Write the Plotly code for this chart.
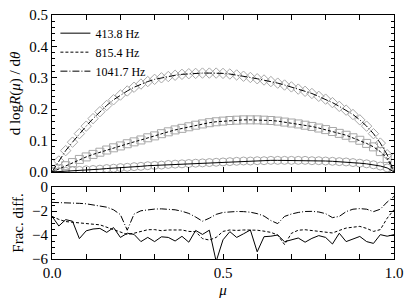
import plotly.graph_objects as go

# ---------------- data ----------------
mu = [round(i * 0.02, 2) for i in range(51)]

deriv_413 = [0.000, 0.001, 0.002, 0.004, 0.005, 0.007, 0.008, 0.009, 0.011, 0.012,
             0.014, 0.015, 0.017, 0.018, 0.020, 0.021, 0.022, 0.024, 0.025, 0.026,
             0.027, 0.028, 0.029, 0.030, 0.031, 0.032, 0.033, 0.034, 0.035, 0.035,
             0.036, 0.036, 0.037, 0.037, 0.037, 0.037, 0.037, 0.037, 0.036, 0.036,
             0.035, 0.034, 0.033, 0.032, 0.030, 0.028, 0.026, 0.023, 0.019, 0.013,
             0.000]
deriv_815 = [0.000, 0.010, 0.020, 0.030, 0.040, 0.048, 0.056, 0.063, 0.070, 0.077,
             0.083, 0.090, 0.096, 0.102, 0.109, 0.115, 0.122, 0.128, 0.134, 0.139,
             0.144, 0.149, 0.153, 0.157, 0.160, 0.162, 0.164, 0.165, 0.166, 0.166,
             0.166, 0.165, 0.164, 0.162, 0.159, 0.156, 0.153, 0.149, 0.145, 0.140,
             0.135, 0.129, 0.123, 0.117, 0.109, 0.101, 0.091, 0.080, 0.065, 0.043,
             0.000]
deriv_1041 = [0.000, 0.035, 0.068, 0.095, 0.122, 0.146, 0.170, 0.192, 0.212, 0.230,
              0.245, 0.258, 0.270, 0.280, 0.288, 0.295, 0.300, 0.304, 0.308, 0.311,
              0.313, 0.314, 0.315, 0.315, 0.315, 0.314, 0.312, 0.309, 0.305, 0.301,
              0.297, 0.293, 0.288, 0.283, 0.277, 0.271, 0.264, 0.257, 0.250, 0.241,
              0.232, 0.221, 0.209, 0.197, 0.183, 0.166, 0.146, 0.122, 0.092, 0.055,
              0.000]

diff_413 = [-2.44, -3.25, -2.72, -2.85, -4.30, -3.65, -3.50, -3.45, -3.78, -3.38,
            -4.20, -3.85, -3.95, -4.55, -4.20, -4.55, -4.15, -4.20, -4.50, -4.11,
            -4.60, -3.62, -3.95, -3.60, -6.20, -4.40, -3.72, -4.20, -3.90, -3.58,
            -5.40, -4.14, -4.10, -4.00, -4.56, -4.40, -4.25, -4.60, -4.28, -4.05,
            -4.20, -4.75, -3.85, -4.55, -4.35, -4.12, -4.55, -4.70, -3.97, -4.10,
            -3.97]
diff_815 = [-2.45, -2.70, -2.88, -2.95, -3.00, -3.03, -3.10, -3.15, -3.35, -3.50,
            -3.70, -3.95, -3.85, -3.72, -3.56, -3.55, -3.64, -3.58, -3.56, -3.58,
            -3.70, -3.72, -4.30, -4.42, -4.20, -3.70, -3.58, -3.62, -3.58, -3.56,
            -3.60, -3.68, -3.78, -4.00, -4.80, -3.86, -3.60, -3.56, -3.62, -3.69,
            -3.75, -3.83, -3.62, -3.42, -3.35, -3.28, -3.45, -3.70, -3.55, -2.60,
            -1.89]
diff_1041 = [-1.28, -1.29, -1.31, -1.33, -1.36, -1.40, -1.48, -1.58, -1.68, -1.90,
             -2.30, -3.60, -2.25, -1.98, -1.88, -1.84, -1.82, -1.84, -1.90, -2.02,
             -2.20, -2.50, -2.85, -2.60, -2.28, -2.12, -2.05, -2.04, -2.05, -2.10,
             -2.22, -2.42, -2.80, -3.05, -2.45, -2.25, -2.12, -2.04, -2.03, -2.08,
             -2.22, -2.55, -2.45, -2.05, -1.85, -1.80, -1.85, -2.05, -1.85, -1.25,
             -0.78]

labels = ["413.8 Hz", "815.4 Hz", "1041.7 Hz"]
x_tickvals = [0.0, 0.5, 1.0]
top_tickvals = [0.0, 0.1, 0.2, 0.3, 0.4, 0.5]
bot_tickvals = [0, -2, -4, -6]

# ---------------- styles ----------------
dashes = ["solid", "3px,2px", "7px,2px,1px,2px"]
symbols = ["circle-open", "square-open", "diamond-open"]
gray = "#a8a8a8"
serif = "Liberation Serif"

fig = go.Figure()

for vals, sym in zip([deriv_413, deriv_815, deriv_1041], symbols):
    fig.add_trace(go.Scatter(x=mu, y=vals, mode="markers", showlegend=False,
                             marker=dict(symbol=sym, size=8, color=gray,
                                         line=dict(width=1, color=gray)),
                             xaxis="x", yaxis="y"))

for vals, lab, d in zip([deriv_413, deriv_815, deriv_1041], labels, dashes):
    fig.add_trace(go.Scatter(x=mu, y=vals, mode="lines", name=lab,
                             line=dict(color="black", width=1, dash=d),
                             xaxis="x", yaxis="y"))

for vals, d in zip([diff_413, diff_815, diff_1041], dashes):
    fig.add_trace(go.Scatter(x=mu, y=vals, mode="lines", showlegend=False,
                             line=dict(color="black", width=1, dash=d),
                             xaxis="x2", yaxis="y2"))

axis_common = dict(showline=True, linecolor="black", linewidth=1, mirror="ticks",
                   ticks="inside", tickcolor="black", ticklen=5, tickwidth=1,
                   showgrid=False, zeroline=False,
                   tickfont=dict(family=serif, size=15, color="black"))

fig.update_layout(
    width=415, height=305,
    margin=dict(l=52, r=21, t=15, b=46, autoexpand=False),
    paper_bgcolor="white", plot_bgcolor="white",
    font=dict(family=serif, size=15, color="black"),
    showlegend=True,
    legend=dict(x=0.01, y=0.985, xanchor="left", yanchor="top",
                bgcolor="rgba(0,0,0,0)", font=dict(family=serif, size=12),
                itemwidth=30, tracegroupgap=0),
    xaxis=dict(domain=[0, 1], range=[0, 1], anchor="y", showticklabels=False,
               dtick=0.1, tick0=0, **axis_common),
    yaxis=dict(domain=[0.3566, 1], range=[0, 0.5], anchor="x",
               tickvals=top_tickvals, tickformat=".1f",
               minor=dict(dtick=0.02, ticks="inside", ticklen=3, tickcolor="black"),
               title=dict(text="d log<i>R</i>(<i>μ</i>) / d<i>θ</i>",
                          font=dict(family=serif, size=15), standoff=4),
               **axis_common),
    xaxis2=dict(domain=[0, 1], range=[0, 1], anchor="y2",
                tickvals=[round(i * 0.1, 1) for i in range(11)],
                ticktext=[("%.1f" % (i * 0.1)) if round(i * 0.1, 1) in x_tickvals else ""
                          for i in range(11)],
                title=dict(text="<i>μ</i>", font=dict(family=serif, size=15), standoff=4),
                **axis_common),
    yaxis2=dict(domain=[0, 0.295], range=[-6, 0], anchor="x2",
                tickvals=bot_tickvals,
                minor=dict(dtick=0.5, ticks="inside", ticklen=3, tickcolor="black"),
                title=dict(text="Frac. diff.", font=dict(family=serif, size=15), standoff=4),
                **axis_common),
)

fig.write_html("out.html", config={"displayModeBar": False},
               post_script="document.body.style.margin='0';")
